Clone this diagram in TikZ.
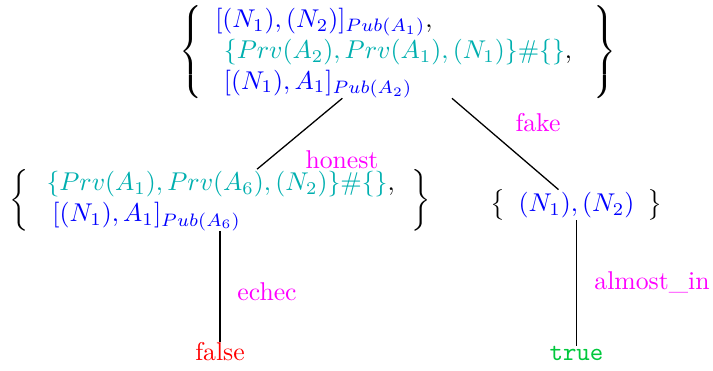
\documentclass[tikz,border=0pt]{standalone}
\usepackage{amsmath}
\definecolor{tealc}{RGB}{0,175,175}
\definecolor{truec}{RGB}{0,200,60}
\definecolor{bluec}{RGB}{0,0,255}
\definecolor{magc}{RGB}{255,0,255}
\tikzset{
  tnode/.style={inner sep=0pt, outer sep=0pt},
  elabel/.style={text=magc, inner sep=0pt},
  edge/.style={draw=black, line width=0.5pt}
}
\begin{document}
\begin{tikzpicture}[x=0.389pt, y=-0.389pt]
\useasboundingbox (0,0) rectangle (713,370);
\node[tnode] (root) at (398,52) {$\left\{\begin{array}{l}
{\color{bluec}[(N_1),(N_2)]_{Pub(A_1)}},\\
\ {\color{tealc}\{Prv(A_2),Prv(A_1),(N_1)\}\#\{\}},\\
\ {\color{bluec}[(N_1),A_1]_{Pub(A_2)}}
\end{array}\ \right\}$};
\node[tnode] (left) at (220,200) {$\left\{\hspace{2pt}\begin{array}{l}
{\color{tealc}\{Prv(A_1),Prv(A_6),(N_2)\}\#\{\}},\\
\hspace{2.3pt}{\color{bluec}[(N_1),A_1]_{Pub(A_6)}}
\end{array}\hspace{1.5pt}\right\}$};
\node[tnode] (right) at (576.5,205) {$\left\{\begin{array}{l}
{\color{bluec}(N_1),(N_2)}
\end{array}\right\}$};
\node[tnode, text=red, anchor=base] (false) at (220,360) {false};
\node[tnode, text=truec, anchor=base] (true) at (576.5,360) {\texttt{true}};
\draw[edge] (root) -- (left);
\draw[edge] (root) -- (right);
\draw[edge] (left) -- (false);
\draw[edge] (right) -- (true);
\node[elabel] (lhonest) at (342,160) {honest};
\node[elabel] (lfake) at (538,123) {fake};
\node[elabel] (lechec) at (267,292) {echec};
\node[elabel] (lalmost) at (652,282) {almost\_in};
\end{tikzpicture}
\end{document}
